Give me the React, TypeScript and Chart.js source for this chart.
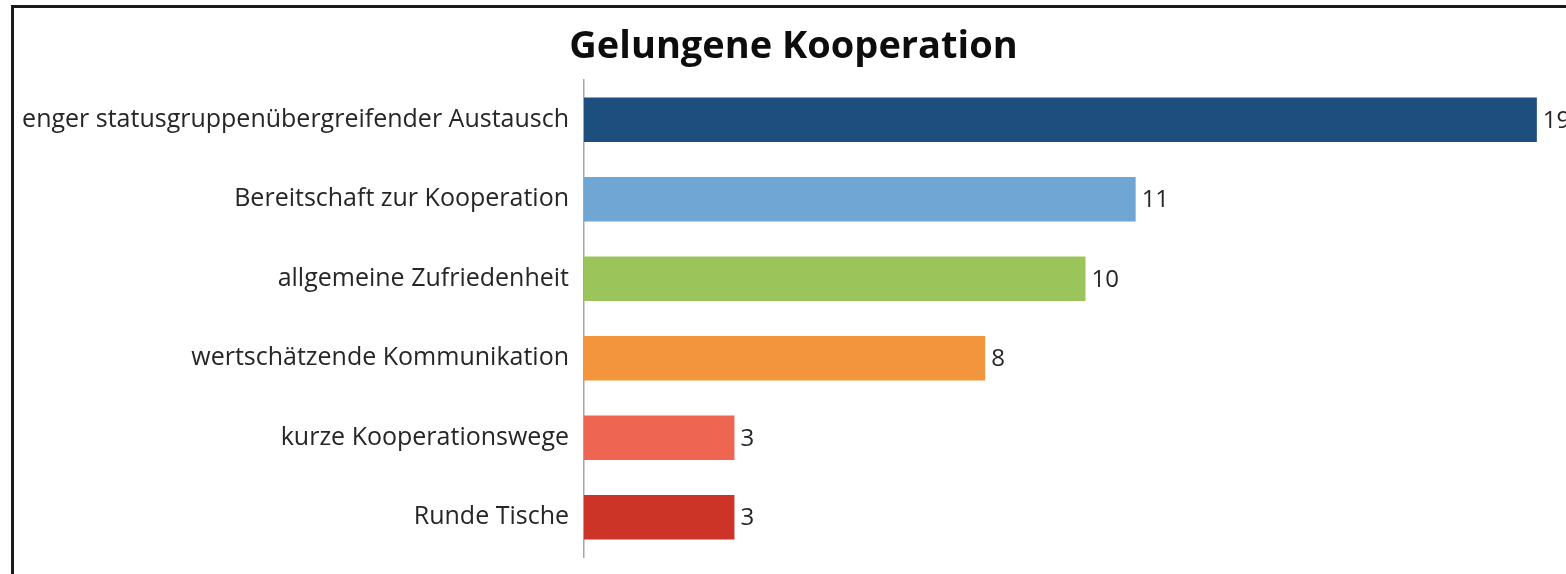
import React, { useEffect, useRef } from "react";
import { Chart, registerables } from "chart.js";

Chart.register(...registerables);

const titleText = "Gelungene Kooperation";
const categories = [
  "enger statusgruppenübergreifender Austausch",
  "Bereitschaft zur Kooperation",
  "allgemeine Zufriedenheit",
  "wertschätzende Kommunikation",
  "kurze Kooperationswege",
  "Runde Tische",
];
const values = [19, 11, 10, 8, 3, 3];
const barColors = ["#1c4f7d", "#6fa6d4", "#9bc55a", "#f2953d", "#ee6552", "#cb3427"];

const FONT = "'Open Sans', 'Noto Sans', sans-serif";

const valueLabelPlugin = {
  id: "valueLabels",
  afterDatasetsDraw(chart: any) {
    const ctx = chart.ctx;
    const meta = chart.getDatasetMeta(0);
    ctx.save();
    ctx.font = `24px ${FONT}`;
    ctx.fillStyle = "#262626";
    ctx.textAlign = "left";
    ctx.textBaseline = "middle";
    meta.data.forEach((bar: any, i: number) => {
      ctx.fillText(String(values[i]), bar.x + 6, bar.y + 1);
    });
    ctx.restore();
  },
};

export default function App() {
  const ref = useRef<HTMLCanvasElement | null>(null);
  useEffect(() => {
    if (!ref.current) return;
    const chart = new Chart(ref.current, {
      type: "bar",
      data: {
        labels: categories,
        datasets: [
          {
            data: values,
            backgroundColor: barColors,
            borderWidth: 0,
            barPercentage: 0.5625,
            categoryPercentage: 1,
          },
        ],
      },
      options: {
        indexAxis: "y",
        animation: false,
        responsive: false,
        layout: { padding: { top: 0, bottom: 5, left: 0, right: 13 } },
        plugins: {
          legend: { display: false },
          tooltip: { enabled: false },
          title: {
            display: true,
            text: titleText,
            color: "#0d0d0d",
            font: { family: FONT, size: 38, weight: "bold", lineHeight: 1.2 },
            padding: { top: 24, bottom: 10.4 },
          },
        },
        scales: {
          x: {
            display: false,
            min: 0,
            max: 20,
          },
          y: {
            afterFit: (scale: any) => {
              scale.width = 584;
            },
            grid: { display: false, drawTicks: false },
            border: { display: true, color: "#a6a6a6", width: 1.5 },
            ticks: {
              color: "#262626",
              padding: 15,
              font: { family: FONT, size: 25 },
            },
          },
        },
      },
      plugins: [valueLabelPlugin],
    });
    return () => chart.destroy();
  }, []);

  return (
    <div
      style={{
        position: "fixed",
        left: 0,
        top: 0,
        width: 1566,
        height: 574,
        overflow: "hidden",
        background: "#ffffff",
      }}
    >
      <div
        style={{
          position: "absolute",
          left: 11,
          top: 5,
          width: 1700,
          height: 700,
          borderLeft: "3px solid #1a1a1a",
          borderTop: "3px solid #1a1a1a",
        }}
      />
      <canvas
        ref={ref}
        width={1600}
        height={587}
        style={{ position: "absolute", left: 0, top: 0, width: 1600, height: 587 }}
      />
    </div>
  );
}
